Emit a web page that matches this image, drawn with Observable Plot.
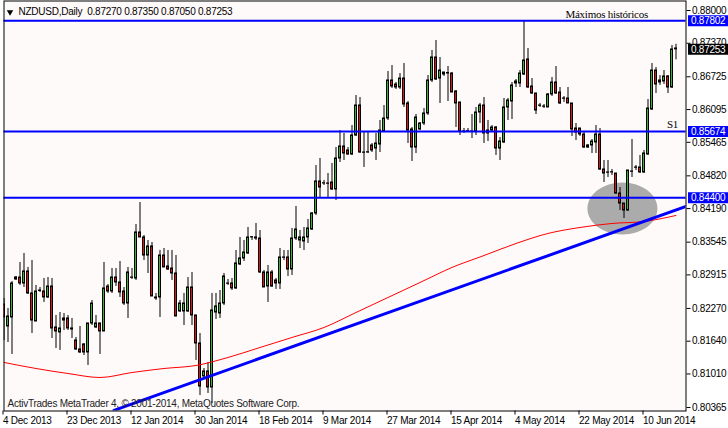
<!DOCTYPE html>
<html><head><meta charset="utf-8">
<script src="https://cdn.jsdelivr.net/npm/d3@7"></script>
<script src="https://cdn.jsdelivr.net/npm/@observablehq/plot@0.6"></script>
<style>
html,body{margin:0;padding:0;background:#fff;}
svg text{letter-spacing:-0.25px}
</style></head><body><div id="chart"></div>
<script>
const symbolName = "NZDUSD,Daily";

const open = [
0.82346,0.81923,0.82096,0.82827,0.82865,0.82750,0.82981,0.82558,0.82019,0.82615,
0.82596,0.82481,0.82692,0.81904,0.81808,0.82038,0.82077,0.81885,0.81654,0.81481,
0.81577,0.81423,0.81981,0.81904,0.81981,0.81827,0.82692,0.82596,0.82865,0.82769,
0.82596,0.82365,0.82865,0.82846,0.83731,0.83635,0.83288,0.83462,0.82481,0.82481,
0.83288,0.83077,0.83038,0.82942,0.82212,0.82212,0.82212,0.82673,0.82135,0.81596,
0.80962,0.81058,0.80750,0.82192,0.82173,0.82365,0.82750,0.82750,0.82654,0.83115,
0.83231,0.83327,0.83635,0.83635,0.83615,0.82962,0.82692,0.82962,0.82808,0.82750,
0.83250,0.83250,0.83019,0.83615,0.83577,0.83558,0.83635,0.83788,0.84096,0.84712,
0.84673,0.84673,0.84692,0.84558,0.85154,0.85385,0.85308,0.85231,0.85596,0.86173,
0.85269,0.85269,0.85404,0.85346,0.85423,0.85673,0.85923,0.86654,0.86577,0.86519,
0.86692,0.86212,0.85712,0.85365,0.85712,0.85827,0.86019,0.86654,0.87096,0.86692,
0.86769,0.86788,0.86788,0.86442,0.86231,0.85673,0.85673,0.85673,0.85673,0.86038,
0.86173,0.85635,0.85692,0.85750,0.85346,0.85462,0.86135,0.86250,0.86635,0.86596,
0.86769,0.87058,0.86538,0.86404,0.86173,0.86154,0.86135,0.86385,0.86615,0.86423,
0.86308,0.86308,0.86212,0.85731,0.85731,0.85615,0.85365,0.85404,0.85462,0.85615,
0.84942,0.84885,0.84885,0.84865,0.84481,0.84288,0.84154,0.84904,0.84981,0.84981,
0.84885,0.85231,0.86096,0.86846,0.86654,0.86635,0.86731,0.86519,0.87270];

const high = [
0.82462,0.82269,0.82788,0.82885,0.83154,0.83327,0.83058,0.83192,0.82712,0.82673,
0.82846,0.82865,0.82846,0.82135,0.82192,0.82173,0.82135,0.82077,0.81712,0.81923,
0.81596,0.81981,0.82423,0.82135,0.81981,0.83154,0.82731,0.83038,0.83038,0.83173,
0.82673,0.83058,0.83038,0.83885,0.84308,0.83673,0.83577,0.83538,0.82558,0.83385,
0.83423,0.83385,0.83385,0.83288,0.82423,0.82558,0.82865,0.82962,0.82135,0.81788,
0.81115,0.81231,0.82558,0.82558,0.82615,0.82942,0.82827,0.82846,0.83385,0.83635,
0.83577,0.83827,0.83654,0.83904,0.83769,0.83000,0.83096,0.83000,0.82846,0.83423,
0.83385,0.83385,0.83808,0.84231,0.83769,0.83827,0.83981,0.84115,0.85019,0.85154,
0.84731,0.84865,0.85058,0.85365,0.85692,0.85635,0.85365,0.85788,0.86365,0.86327,
0.85654,0.85654,0.85442,0.85635,0.85885,0.86173,0.86827,0.86942,0.86615,0.86788,
0.86981,0.86250,0.85750,0.86000,0.85846,0.86115,0.86750,0.87231,0.87423,0.87096,
0.86808,0.86923,0.86808,0.86462,0.86231,0.85731,0.85731,0.86000,0.86135,0.86212,
0.86327,0.85885,0.85788,0.85769,0.85558,0.86308,0.86308,0.86615,0.86673,0.86846,
0.87802,0.87269,0.86692,0.86404,0.86212,0.86192,0.86404,0.86712,0.86923,0.86519,
0.86346,0.86519,0.86212,0.85827,0.85731,0.85654,0.85423,0.85519,0.85788,0.85731,
0.85115,0.85115,0.84942,0.84865,0.84596,0.84288,0.84923,0.85519,0.85019,0.85212,
0.85308,0.86288,0.86981,0.86904,0.86750,0.86846,0.86750,0.87327,0.87350];

const low = [
0.81654,0.81615,0.81385,0.82808,0.82712,0.82673,0.82538,0.81788,0.82019,0.82577,
0.82385,0.82462,0.81692,0.81500,0.81462,0.81846,0.81846,0.81692,0.81462,0.81404,
0.81365,0.81173,0.81942,0.81885,0.81385,0.81827,0.82558,0.82558,0.82692,0.82481,
0.82327,0.82077,0.82827,0.82808,0.83635,0.83192,0.82942,0.82500,0.82423,0.82096,
0.83058,0.83000,0.82808,0.82115,0.82192,0.81942,0.82192,0.81942,0.81269,0.80596,
0.80942,0.80635,0.80442,0.82058,0.82077,0.82327,0.82712,0.82615,0.82635,0.83096,
0.83173,0.83308,0.83577,0.83577,0.82942,0.82673,0.82385,0.82673,0.82635,0.82635,
0.83192,0.82885,0.82904,0.83577,0.83423,0.83385,0.83519,0.83769,0.84058,0.84385,
0.84635,0.84385,0.84538,0.84346,0.85077,0.85115,0.85212,0.85212,0.85577,0.85250,
0.84981,0.85250,0.85269,0.85115,0.85269,0.85654,0.85885,0.86500,0.86481,0.86481,
0.86135,0.85442,0.85096,0.85250,0.85692,0.85788,0.85981,0.86615,0.86654,0.86212,
0.86731,0.86250,0.86423,0.85750,0.85596,0.85635,0.85654,0.85538,0.85596,0.85827,
0.85442,0.85481,0.85654,0.85212,0.85115,0.85442,0.85885,0.85904,0.86519,0.86519,
0.86750,0.86500,0.86385,0.86000,0.86135,0.86115,0.86135,0.86346,0.86385,0.86192,
0.86231,0.86212,0.85577,0.85500,0.85577,0.85346,0.85346,0.85250,0.85250,0.84923,
0.84692,0.84788,0.84827,0.84462,0.84154,0.84000,0.84135,0.84788,0.84923,0.84865,
0.84865,0.85212,0.86077,0.86404,0.86558,0.86577,0.86404,0.86500,0.87050];

const close = [
0.82096,0.82115,0.82750,0.82865,0.82750,0.82981,0.82558,0.82038,0.82596,0.82605,
0.82481,0.82692,0.81885,0.81827,0.81885,0.82077,0.81885,0.81865,0.81481,0.81423,
0.81423,0.81981,0.82365,0.81981,0.81827,0.82654,0.82596,0.82865,0.82769,0.82577,
0.82365,0.82962,0.82860,0.83731,0.83635,0.83288,0.83462,0.82500,0.82462,0.83288,
0.83058,0.83019,0.82942,0.82115,0.82365,0.82365,0.82673,0.82135,0.81596,0.80769,
0.81058,0.80750,0.82231,0.82308,0.82365,0.82885,0.82745,0.82654,0.83135,0.83231,
0.83346,0.83635,0.83640,0.83615,0.82962,0.82673,0.82962,0.82692,0.82750,0.83250,
0.83245,0.83019,0.83615,0.83788,0.83635,0.83635,0.83808,0.84096,0.84712,0.84596,
0.84678,0.84668,0.84558,0.85154,0.85385,0.85250,0.85231,0.85596,0.86173,0.85269,
0.85264,0.85274,0.85308,0.85442,0.85692,0.85923,0.86654,0.86538,0.86519,0.86692,
0.86192,0.85692,0.85365,0.85942,0.85827,0.86019,0.86654,0.87096,0.86673,0.86846,
0.86808,0.86798,0.86423,0.86212,0.85673,0.85668,0.85678,0.85668,0.86038,0.86173,
0.85635,0.85692,0.85750,0.85346,0.85481,0.86135,0.86269,0.86558,0.86596,0.86788,
0.87038,0.86519,0.86404,0.86077,0.86168,0.86149,0.86385,0.86615,0.86404,0.86212,
0.86303,0.86212,0.85712,0.85654,0.85615,0.85365,0.85404,0.85481,0.85615,0.84942,
0.84865,0.84880,0.84890,0.84481,0.84288,0.84154,0.84923,0.84899,0.84976,0.84885,
0.85250,0.86115,0.86846,0.86577,0.86615,0.86731,0.86519,0.87250,0.87253];

// moving average (red line), sampled every 8 bars
const maBars = [0,8,16,24,32,40,48,56,64,72,80,88,96,104,112,120,128,136,144,152,160,168];
const maValues = [0.81231,0.81115,0.81019,0.80942,0.81038,0.81115,0.81173,0.81327,0.81519,0.81712,0.81904,
  0.82192,0.82481,0.82769,0.83058,0.83288,0.83519,0.83712,0.83827,0.83904,0.83942,0.84058];

// trend line anchors
const trendBars = [27.5, 170.5];
const trendPrices = [0.8031, 0.8423];

// horizontal levels
const levels = [0.87802, 0.85674, 0.84400];
const noteLevels = [0.87802, 0.85674];
const noteTexts = ["Máximos históricos", "S1"];

// highlighted zone (ellipse) centre
const zone = [{bar: 154.6, price: 0.8419}];

// axes
const yTickValues = [0.88000,0.87370,0.86725,0.86095,0.85465,0.84820,0.84190,0.83545,0.82915,0.82270,0.81640,0.81010,0.80365];
const xTickBars = [0,16,32,48,64,80,96,112,128,144,160];
const xTickLabels = ["4 Dec 2013","23 Dec 2013","12 Jan 2014","30 Jan 2014","18 Feb 2014","9 Mar 2014","27 Mar 2014","15 Apr 2014","4 May 2014","22 May 2014","10 Jun 2014"];
const footerText = "ActivTrades MetaTrader 4, © 2001-2014, MetaQuotes Software Corp.";

const bars = open.map((o, i) => ({i, o, h: high[i], l: low[i], c: close[i]}));
const last = bars[bars.length - 1];
const ma = maBars.map((b, k) => ({bar: b, v: maValues[k]}));
const trend = trendBars.map((b, k) => ({bar: b, v: trendPrices[k]}));
const fmt = d3.format(".5f");
const xLabel = new Map(xTickBars.map((b, k) => [b, xTickLabels[k]]));
const header = `${symbolName}\u00a0\u00a0${fmt(last.o)} ${fmt(last.h)} ${fmt(last.l)} ${fmt(last.c)}`;

const ellipseSymbol = {draw(ctx) {
  const rx = 35, ry = 26, k = 0.5523;
  ctx.moveTo(rx, 0);
  ctx.bezierCurveTo(rx, ry*k, rx*k, ry, 0, ry);
  ctx.bezierCurveTo(-rx*k, ry, -rx, ry*k, -rx, 0);
  ctx.bezierCurveTo(-rx, -ry*k, -rx*k, -ry, 0, -ry);
  ctx.bezierCurveTo(rx*k, -ry, rx, -ry*k, rx, 0);
  ctx.closePath();
}};
const boxSymbol = {draw(ctx) { ctx.rect(-20, -5.5, 40, 11); }};

const GREEN = "#36B436", RED = "#DC1414", BLUE = "#0000FF";
const noteOffsets = [-38, -8];
const serif = "'Liberation Serif', 'Times New Roman', serif";

const chart = Plot.plot({
  width: 728, height: 428,
  marginLeft: 3.5, marginRight: 42.5, marginTop: 0.5, marginBottom: 17.5,
  x: {domain: [0, 170.5], axis: null},
  y: {domain: [0.802976, 0.881827], axis: null},
  style: {fontFamily: "'Liberation Sans', Arial, sans-serif", fontSize: "10px", background: "white", overflow: "visible"},
  marks: [
    Plot.frame({fill: "#FFFAFA", stroke: null}),
    Plot.dot(zone, {x: "bar", y: "price", symbol: ellipseSymbol, fill: "#ABABAB", stroke: null}),
    Plot.ruleX(bars, {x: "i", y1: "l", y2: "h", stroke: "black", strokeWidth: 1, clip: "frame"}),
    Plot.rect(bars, {x1: d => d.i - 0.25, x2: d => d.i + 0.25, y1: "o", y2: "c",
      fill: d => d.c >= d.o ? GREEN : RED, stroke: "black", strokeWidth: 1, clip: "frame"}),
    Plot.line(ma, {x: "bar", y: "v", stroke: "#FF0000", strokeWidth: 1, curve: "monotone-x", clip: "frame"}),
    Plot.line(trend, {x: "bar", y: "v", stroke: BLUE, strokeWidth: 3, clip: "frame"}),
    Plot.ruleY(levels, {stroke: BLUE, strokeWidth: 2}),
    ...noteLevels.map((lv, k) => Plot.text([noteTexts[k]], {y: () => lv, frameAnchor: "right", dx: noteOffsets[k],
      textAnchor: "end", lineAnchor: "bottom", dy: -3, fontFamily: serif, fontSize: 11, fill: "black"})),
    Plot.axisX({ticks: xTickBars, tickFormat: d => xLabel.get(d), tickSize: 4, tickPadding: 2, textAnchor: "start", dx: -1, label: null}),
    Plot.axisY({anchor: "right", ticks: yTickValues, tickFormat: fmt, tickSize: 4, tickPadding: 2, label: null}),
    Plot.dot(levels, {y: d => d, frameAnchor: "right", dx: 22, symbol: boxSymbol, fill: BLUE, stroke: null}),
    Plot.text(levels, {y: d => d, frameAnchor: "right", text: d => fmt(d), dx: 5, textAnchor: "start", fill: "white"}),
    Plot.dot([last.c], {y: d => d, frameAnchor: "right", dx: 22, symbol: boxSymbol, fill: "black", stroke: null}),
    Plot.text([last.c], {y: d => d, frameAnchor: "right", text: d => fmt(d), dx: 5, textAnchor: "start", fill: "white"}),
    Plot.dot([0], {frameAnchor: "top-left", symbol: "triangle", rotate: 180, r: 2.4, fill: "black", stroke: null, dx: 6, dy: 11}),
    Plot.text([header], {frameAnchor: "top-left", dx: 14.5, dy: 10.5, textAnchor: "start", lineAnchor: "middle", fill: "black"}),
    Plot.text([footerText], {frameAnchor: "bottom-left", dx: 3.5, dy: -4, textAnchor: "start", lineAnchor: "bottom", fill: "#222"}),
    Plot.frame({stroke: "black"})
  ]
});
document.getElementById("chart").append(chart);
</script>
</body></html>
